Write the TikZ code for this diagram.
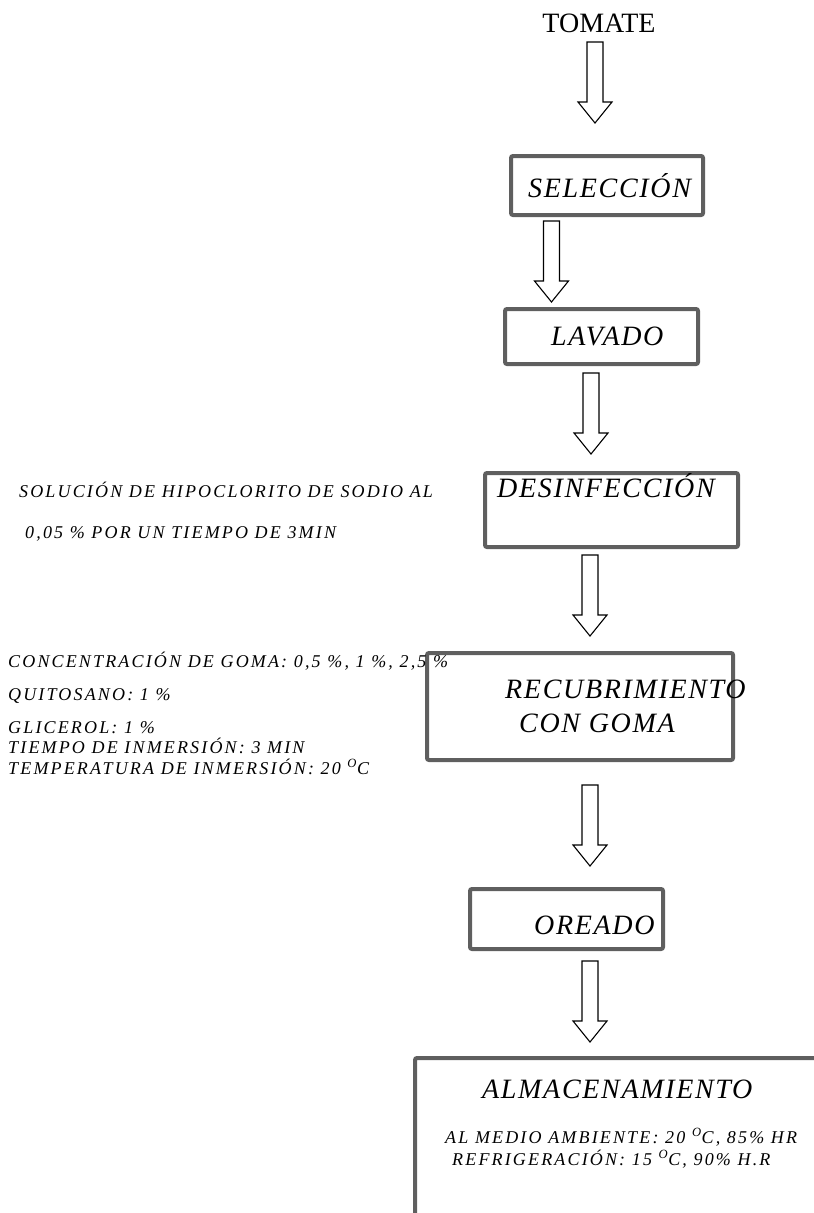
\documentclass[tikz,border=0pt]{standalone}
\usepackage{fontspec}
\setmainfont{Liberation Serif}
\newfontfamily\stagefont[LetterSpace=6]{Liberation Serif}
\newfontfamily\notefont[LetterSpace=12]{Liberation Serif}
\usepackage{xcolor}
\definecolor{boxgray}{HTML}{5F5F5F}

\begin{document}
\begin{tikzpicture}[x=1pt, y=-1pt,
                    procbox/.style={draw=boxgray, line width=4pt, rounded corners=2pt, inner sep=0pt, anchor=north west},
                    stagelabel/.style={font=\stagefont\itshape\fontsize{28}{32}\selectfont, inner sep=0pt, anchor=base west},
                    notelabel/.style={font=\notefont\itshape\fontsize{18}{20}\selectfont, inner sep=0pt, anchor=base west},
                    arrowline/.style={draw=black, line width=1.1pt, fill=white},
                    hollowarrow/.pic={\draw[arrowline] (-8,0) -- (8,0) -- (8,60) -- (17,60) -- (0,81) -- (-17,60) -- (-8,60) -- cycle;},
                   ]

\useasboundingbox (0,0) rectangle (814,1213);

\node[font=\fontsize{28}{32}\selectfont, inner sep=0pt, anchor=base] (tomate) at (599,32) {TOMATE};

% process boxes
\node[procbox, minimum width=192pt, minimum height=59pt] (sel) at (509,154) {};
\node[procbox, minimum width=193pt, minimum height=55pt] (lav) at (503,307) {};
\node[procbox, minimum width=253pt, minimum height=74pt] (des) at (483,471) {};
\node[procbox, minimum width=306pt, minimum height=107pt] (rec) at (425,651) {};
\node[procbox, minimum width=193pt, minimum height=60pt] (ore) at (468,887) {};
\node[procbox, minimum width=450pt, minimum height=220pt] (alm) at (413,1056) {};

\node[stagelabel] (selT) at (528,197) {SELECCIÓN};
\node[stagelabel] (lavT) at (551,345) {LAVADO};
\node[stagelabel] (desT) at (497,497) {DESINFECCIÓN};
\node[stagelabel] (recT) at (505,698) {RECUBRIMIENTO};
\node[stagelabel] (recU) at (519,732) {CON GOMA};
\node[stagelabel] (oreT) at (534,934) {OREADO};
\node[stagelabel] (almT) at (482,1098) {ALMACENAMIENTO};

% arrows between stages
\coordinate (a1) at (595,42);
\coordinate (a2) at (551.5,221);
\coordinate (a3) at (591,373);
\coordinate (a4) at (590,555);
\coordinate (a5) at (590,785);
\coordinate (a6) at (590,961);
\foreach \a in {a1,a2,a3,a4,a5,a6}
  \pic at (\a) {hollowarrow};

% side notes
\node[notelabel] (solA) at (19,497) {SOLUCIÓN DE HIPOCLORITO DE SODIO AL};
\node[notelabel] (solB) at (25,538) {0,05 \% POR UN TIEMPO DE 3MIN};

\node[notelabel] (conc) at (8,667) {CONCENTRACIÓN DE GOMA: 0,5 \%, 1 \%, 2,5 \%};
\node[notelabel] (quit) at (8,700) {QUITOSANO: 1 \%};
\node[notelabel] (glic) at (8,733) {GLICEROL: 1 \%};
\node[notelabel] (tiem) at (8,753) {TIEMPO DE INMERSIÓN: 3 MIN};
\node[notelabel] (temp) at (8,774) {TEMPERATURA DE INMERSIÓN: 20 \textsuperscript{O}C};

\node[notelabel] (amb) at (445,1143) {AL MEDIO AMBIENTE: 20 \textsuperscript{O}C, 85\% HR};
\node[notelabel] (refr) at (452,1165) {REFRIGERACIÓN: 15 \textsuperscript{O}C, 90\% H.R};

\end{tikzpicture}
\end{document}
